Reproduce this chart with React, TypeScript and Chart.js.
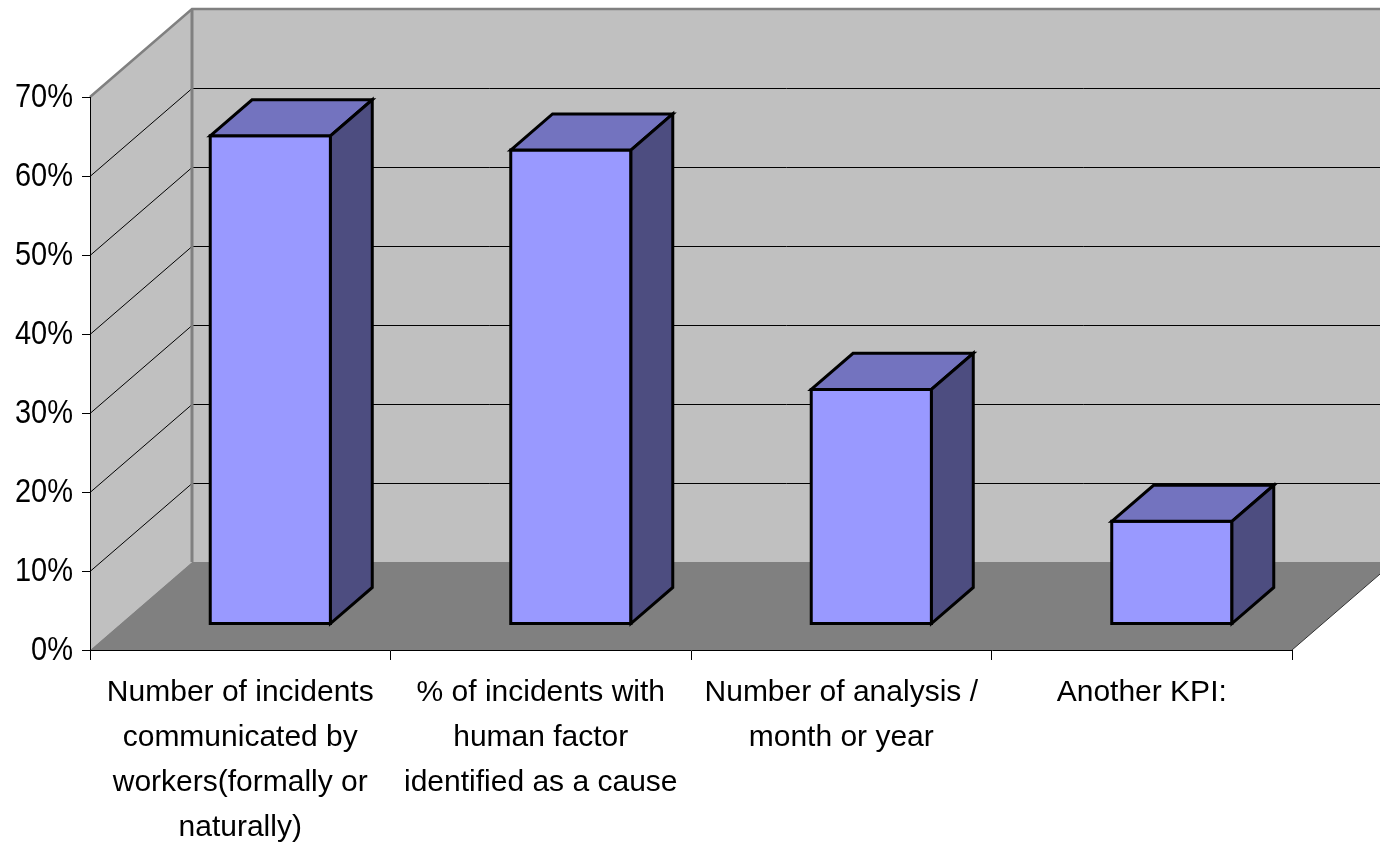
import React, { useEffect, useRef } from 'react';
import { Chart, registerables } from 'chart.js';

Chart.register(...registerables);

const categories: string[][] = [
  ['Number of incidents', 'communicated by', 'workers(formally or', 'naturally)'],
  ['% of incidents with', 'human factor', 'identified as a cause'],
  ['Number of analysis /', 'month or year'],
  ['Another KPI:'],
];
const values: number[] = [61.8, 60, 29.7, 13];
const yMax = 70;
const yStep = 10;

// 3D geometry (depth offset of the back wall, bar placement within the depth)
const DX = 102;
const DY = -88;
const BAR_FRONT = 0.295;
const BAR_DEPTH = 0.41;

const FONT = "'Liberation Sans', Arial, sans-serif";

function poly(ctx: CanvasRenderingContext2D, pts: number[][], fill?: string, stroke?: string, lw = 1) {
  ctx.beginPath();
  ctx.moveTo(pts[0][0], pts[0][1]);
  for (let i = 1; i < pts.length; i++) ctx.lineTo(pts[i][0], pts[i][1]);
  ctx.closePath();
  if (fill) {
    ctx.fillStyle = fill;
    ctx.fill();
  }
  if (stroke) {
    ctx.strokeStyle = stroke;
    ctx.lineWidth = lw;
    ctx.stroke();
  }
}

const threeD = {
  id: 'threeD',
  beforeDraw(chart: any) {
    const { ctx, chartArea: a } = chart;
    const yScale = chart.scales.y;
    const L = a.left, R = a.right, T = a.top, B = a.bottom;
    ctx.save();
    // back wall
    poly(ctx, [[L + DX, T + DY], [R + DX, T + DY], [R + DX, B + DY], [L + DX, B + DY]], '#c0c0c0');
    // left wall
    poly(ctx, [[L, T], [L + DX, T + DY], [L + DX, B + DY], [L, B]], '#c0c0c0');
    // gridlines
    ctx.strokeStyle = '#000';
    ctx.lineWidth = 1;
    for (let v = yStep; v < yMax; v += yStep) {
      const py = Math.round(yScale.getPixelForValue(v)) + 0.5;
      ctx.beginPath();
      ctx.moveTo(L, py);
      ctx.lineTo(L + DX, py + DY);
      ctx.lineTo(R + DX, py + DY);
      ctx.stroke();
    }
    // floor
    poly(ctx, [[L, B], [R, B], [R + DX, B + DY], [L + DX, B + DY]], '#808080');
    // floor right edge
    ctx.strokeStyle = '#333';
    ctx.lineWidth = 1;
    ctx.beginPath();
    ctx.moveTo(R, B);
    ctx.lineTo(R + DX, B + DY);
    ctx.stroke();
    // wall edges (gray)
    ctx.strokeStyle = '#808080';
    ctx.lineWidth = 2.5;
    ctx.beginPath();
    ctx.moveTo(L, T);
    ctx.lineTo(L + DX, T + DY);
    ctx.lineTo(R + DX + 10, T + DY);
    ctx.stroke();
    ctx.lineWidth = 3;
    ctx.beginPath();
    ctx.moveTo(L + DX, T + DY);
    ctx.lineTo(L + DX, B + DY);
    ctx.stroke();
    ctx.restore();
  },
  afterDatasetsDraw(chart: any) {
    const { ctx } = chart;
    const meta = chart.getDatasetMeta(0);
    const fx = DX * BAR_FRONT, fy = DY * BAR_FRONT;
    const dx = DX * BAR_DEPTH, dy = DY * BAR_DEPTH;
    ctx.save();
    ctx.lineJoin = 'miter';
    meta.data.forEach((el: any) => {
      const p = el.getProps(['x', 'y', 'base', 'width'], true);
      const x0 = p.x - p.width / 2 + fx;
      const x1 = p.x + p.width / 2 + fx;
      const y0 = p.y + fy;
      const y1 = p.base + fy;
      poly(ctx, [[x0, y0], [x1, y0], [x1, y1], [x0, y1]], '#9999ff', '#000', 3);
      poly(ctx, [[x0, y0], [x0 + dx, y0 + dy], [x1 + dx, y0 + dy], [x1, y0]], '#7373bf', '#000', 3);
      poly(ctx, [[x1, y0], [x1 + dx, y0 + dy], [x1 + dx, y1 + dy], [x1, y1]], '#4d4d80', '#000', 3);
    });
    ctx.restore();
  },
  afterDraw(chart: any) {
    // y tick labels, drawn slightly taller than wide like the original rendering
    const { ctx, chartArea: a } = chart;
    const yScale = chart.scales.y;
    ctx.save();
    ctx.fillStyle = '#000';
    ctx.font = `29px ${FONT}`;
    ctx.textAlign = 'right';
    ctx.textBaseline = 'middle';
    const sy = 1.13;
    yScale.ticks.forEach((t: any) => {
      const py = yScale.getPixelForValue(t.value);
      ctx.save();
      ctx.translate(a.left - 17, py + 1);
      ctx.scale(1, sy);
      ctx.fillText(t.value + '%', 0, 0);
      ctx.restore();
    });
    ctx.restore();
  },
};

export default function App() {
  const ref = useRef<HTMLCanvasElement | null>(null);
  useEffect(() => {
    document.body.style.margin = '0';
    const canvas = ref.current;
    if (!canvas) return;
    const chart = new Chart(canvas, {
      type: 'bar',
      data: {
        labels: categories,
        datasets: [
          {
            data: values,
            backgroundColor: 'rgba(0,0,0,0)',
            borderWidth: 0,
            barPercentage: 0.4,
            categoryPercentage: 1,
          },
        ],
      },
      options: {
        animation: false,
        responsive: false,
        devicePixelRatio: 1,
        layout: { padding: { left: 0, top: 97, right: 88, bottom: 0 } },
        plugins: { legend: { display: false }, tooltip: { enabled: false } },
        scales: {
          x: {
            offset: true,
            grid: { offset: true, drawOnChartArea: false, tickLength: 10, color: '#000', lineWidth: 1 },
            border: { display: true, color: '#000', width: 1 },
            ticks: {
              color: '#000',
              font: { family: FONT, size: 30, lineHeight: 1.5 },
              padding: 10,
              maxRotation: 0,
              autoSkip: false,
            },
            afterFit: (s: any) => {
              s.height = 205;
            },
          },
          y: {
            min: 0,
            max: yMax,
            ticks: {
              stepSize: yStep,
              color: 'rgba(0,0,0,0)',
              padding: 9,
              font: { family: FONT, size: 29 },
              callback: (v: any) => v + '%',
            },
            grid: { drawOnChartArea: false, tickLength: 8, color: '#000', lineWidth: 1 },
            border: { display: true, color: '#000', width: 1 },
            afterFit: (s: any) => {
              s.width = 90;
            },
          },
        },
      },
      plugins: [threeD],
    });
    return () => chart.destroy();
  }, []);
  return (
    <div style={{ position: 'absolute', left: 0, top: 0, width: 1380, height: 855, background: '#fff' }}>
      <canvas ref={ref} width={1380} height={855} />
    </div>
  );
}
